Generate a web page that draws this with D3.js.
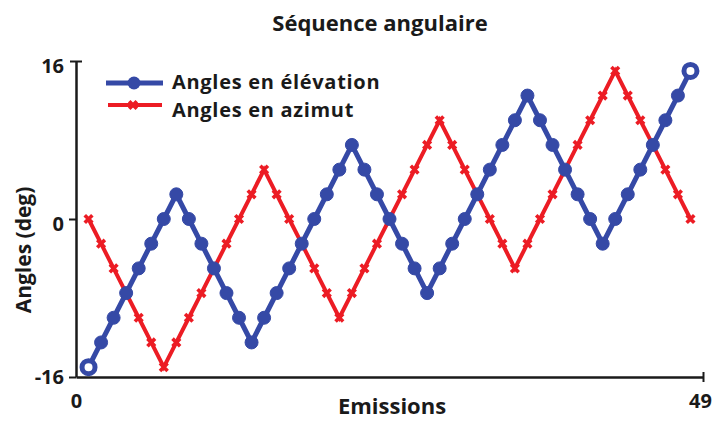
<!DOCTYPE html>
<html>
<head>
<meta charset="utf-8">
<script src="https://cdn.jsdelivr.net/npm/d3@7"></script>
<style>
  html, body { margin: 0; padding: 0; background: #fff; }
  svg { display: block; }
  text { font-family: "Open Sans", Lato, sans-serif; font-weight: bold; fill: #1a1a1a; }
</style>
</head>
<body>
<svg id="chart" width="716" height="421"></svg>
<script>
const title = "Séquence angulaire";
const xLabel = "Emissions";
const yLabel = "Angles (deg)";
const seriesNames = ["Angles en élévation", "Angles en azimut"];
const emissions = [1,2,3,4,5,6,7,8,9,10,11,12,13,14,15,16,17,18,19,20,21,22,23,24,25,26,27,28,29,30,31,32,33,34,35,36,37,38,39,40,41,42,43,44,45,46,47,48,49];
const elevation = [-15,-12.5,-10,-7.5,-5,-2.5,0,2.5,0,-2.5,-5,-7.5,-10,-12.5,-10,-7.5,-5,-2.5,0,2.5,5,7.5,5,2.5,0,-2.5,-5,-7.5,-5,-2.5,0,2.5,5,7.5,10,12.5,10,7.5,5,2.5,0,-2.5,0,2.5,5,7.5,10,12.5,15];
const azimuth = [0,-2.5,-5,-7.5,-10,-12.5,-15,-12.5,-10,-7.5,-5,-2.5,0,2.5,5,2.5,0,-2.5,-5,-7.5,-10,-7.5,-5,-2.5,0,2.5,5,7.5,10,7.5,5,2.5,0,-2.5,-5,-2.5,0,2.5,5,7.5,10,12.5,15,12.5,10,7.5,5,2.5,0];
const xDomain = [0, 50];
const xTickValues = [0, 50];
const xTickLabels = ["0", "49"];
const yDomain = [-16, 16];
const yTickValues = [-16, 0, 16];
const colors = ["#3549a6", "#ec1c24"];

const svg = d3.select("#chart");
const x = d3.scaleLinear().domain(xDomain).range([76, 703]);
const y = d3.scaleLinear().domain(yDomain).range([377, 61]);

// title
svg.append("text").attr("x", 380).attr("y", 31).attr("text-anchor", "middle")
  .style("font-size", "22px").text(title);

// axes
const yAxis = d3.axisLeft(y).tickValues(yTickValues).tickSize(7).tickSizeOuter(0).tickFormat(d => String(d));
const gy = svg.append("g").attr("transform", `translate(${x(0)},0)`).call(yAxis);
gy.select(".domain").attr("stroke", "#1a1a1a").attr("stroke-width", 2.5);
gy.selectAll(".tick line").attr("stroke", "#1a1a1a").attr("stroke-width", 2);
gy.selectAll(".tick").filter(d => d === yDomain[1]).select("line").attr("x1", 6).attr("x2", -6);
gy.selectAll(".tick text").attr("x", -12).attr("dy", "0.55em")
  .style("font-size", "20px").style("font-family", "'Open Sans', sans-serif").attr("fill", "#1a1a1a");
gy.selectAll(".tick").filter(d => d === yDomain[0]).select("text").attr("dy", "0.32em");

const xAxis = d3.axisBottom(x).tickValues(xTickValues).tickSize(0).tickSizeOuter(0)
  .tickFormat((d, i) => xTickLabels[i]);
const gx = svg.append("g").attr("transform", `translate(0,${y(yDomain[0])})`).call(xAxis);
gx.select(".domain").attr("stroke", "#1a1a1a").attr("stroke-width", 2.5);
gx.selectAll(".tick").filter(d => d === xDomain[1]).select("line")
  .attr("stroke", "#1a1a1a").attr("stroke-width", 2).attr("y1", -5).attr("y2", 5);
gx.selectAll(".tick text").attr("y", 17).attr("dy", "0.71em")
  .style("font-size", "20px").style("font-family", "'Open Sans', sans-serif").attr("fill", "#1a1a1a");
gx.selectAll(".tick").filter(d => d === xDomain[1]).select("text").attr("dx", -3);

// axis labels
svg.append("text").attr("x", 392).attr("y", 414).attr("text-anchor", "middle")
  .style("font-size", "22px").text(xLabel);
svg.append("text").attr("transform", "translate(31,250) rotate(-90)").attr("text-anchor", "middle")
  .style("font-size", "21px").text(yLabel);

// lines
const line = d3.line().x((d, i) => x(emissions[i])).y(d => y(d));

const crossPath = s => `M${-s},${-s}L${s},${s}M${-s},${s}L${s},${-s}`;

function drawRed(g) {
  g.append("path").datum(azimuth).attr("d", line).attr("fill", "none")
    .attr("stroke", colors[1]).attr("stroke-width", 4).attr("stroke-linejoin", "miter");
  g.selectAll("path.m").data(azimuth).join("path").attr("class", "m")
    .attr("transform", (d, i) => `translate(${x(emissions[i])},${y(d)})`)
    .attr("d", crossPath(3.8)).attr("stroke", colors[1]).attr("stroke-width", 3.6).attr("fill", "none");
}
function drawBlue(g) {
  g.append("path").datum(elevation).attr("d", line).attr("fill", "none")
    .attr("stroke", colors[0]).attr("stroke-width", 5).attr("stroke-linejoin", "miter");
  g.selectAll("circle").data(elevation).join("circle")
    .attr("cx", (d, i) => x(emissions[i])).attr("cy", d => y(d)).attr("r", 6.5)
    .attr("fill", (d, i) => (i === 0 || i === elevation.length - 1) ? "#fff" : colors[0])
    .attr("stroke", colors[0]).attr("stroke-width", (d, i) => (i === 0 || i === elevation.length - 1) ? 5 : 1);
}
drawRed(svg.append("g"));
drawBlue(svg.append("g"));

// legend
const lg = svg.append("g");
lg.append("line").attr("x1", 106).attr("x2", 163).attr("y1", 83).attr("y2", 83)
  .attr("stroke", colors[0]).attr("stroke-width", 5);
lg.append("circle").attr("cx", 134).attr("cy", 83).attr("r", 6.5).attr("fill", colors[0]);
lg.append("text").attr("x", 172).attr("y", 89).style("font-size", "20px").style("letter-spacing", "0.7px").text(seriesNames[0]);
lg.append("line").attr("x1", 108).attr("x2", 162).attr("y1", 105).attr("y2", 105)
  .attr("stroke", colors[1]).attr("stroke-width", 4);
lg.append("path").attr("transform", "translate(133,105)").attr("d", crossPath(3.8))
  .attr("stroke", colors[1]).attr("stroke-width", 3.6).attr("fill", "none");
lg.append("text").attr("x", 172).attr("y", 117).style("font-size", "20px").style("letter-spacing", "0.7px").text(seriesNames[1]);
</script>
</body>
</html>
